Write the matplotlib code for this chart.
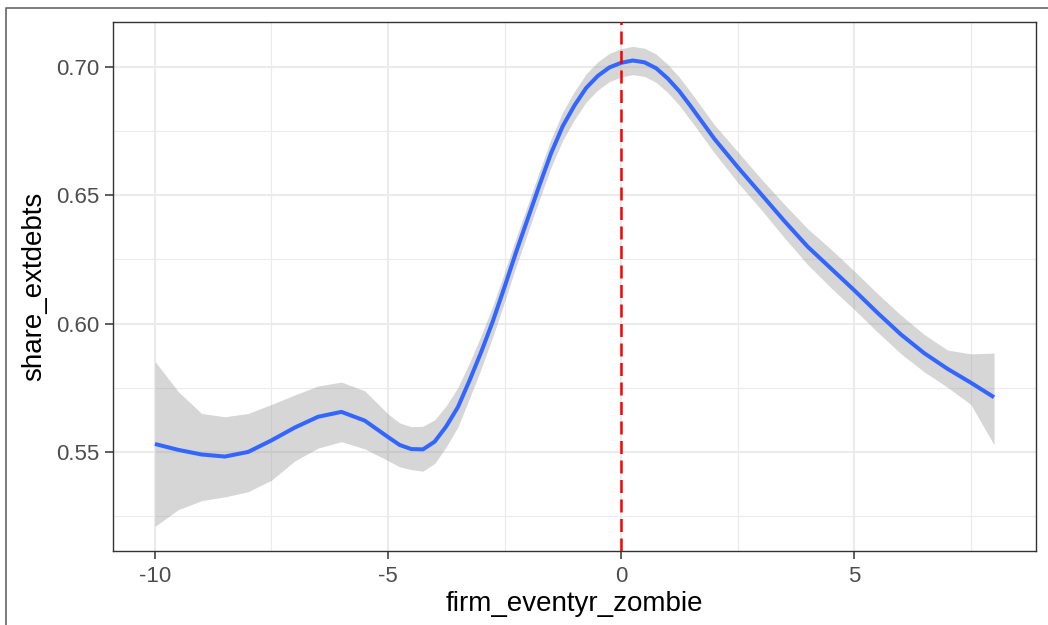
import numpy as np
import matplotlib
matplotlib.use("Agg")
import matplotlib.pyplot as plt
from matplotlib.lines import Line2D

plt.rcParams['font.family'] = ['Liberation Sans', 'DejaVu Sans']

# loess fit (x, fit, lower CI, upper CI)
x_vals = [-10.0, -9.5, -9.0, -8.5, -8.0, -7.5, -7.0, -6.5, -6.0, -5.5, -5.0,
          -4.75, -4.5, -4.25, -4.0, -3.75, -3.5, -3.25, -3.0, -2.75, -2.5,
          -2.25, -2.0, -1.75, -1.5, -1.25, -1.0, -0.75, -0.5, -0.25, 0.0,
          0.25, 0.5, 0.75, 1.0, 1.25, 1.5, 2.0, 2.5, 3.0, 3.5, 4.0, 4.5,
          5.0, 5.5, 6.0, 6.5, 7.0, 7.5, 8.0]
fit = [0.5531, 0.5508, 0.5490, 0.5482, 0.5500, 0.5545, 0.5595, 0.5637, 0.5656, 0.5622, 0.5558,
       0.5527, 0.5511, 0.5510, 0.5540, 0.5600, 0.5675, 0.5779, 0.5890, 0.6010, 0.6143,
       0.6280, 0.6410, 0.6540, 0.6665, 0.6770, 0.6850, 0.6918, 0.6965, 0.6998, 0.7016,
       0.7025, 0.7018, 0.6995, 0.6955, 0.6905, 0.6845, 0.6720, 0.6610, 0.6505, 0.6400, 0.6300, 0.6215,
       0.6130, 0.6042, 0.5958, 0.5885, 0.5824, 0.5770, 0.5713]
lower = [0.5210, 0.5275, 0.5310, 0.5325, 0.5345, 0.5390, 0.5465, 0.5515, 0.5540, 0.5512, 0.5466,
         0.5442, 0.5431, 0.5425, 0.5455, 0.5520, 0.5598, 0.5710, 0.5825, 0.5950, 0.6085,
         0.6224, 0.6355, 0.6485, 0.6610, 0.6715, 0.6795, 0.6863, 0.6910, 0.6943, 0.6961,
         0.6970, 0.6963, 0.6940, 0.6900, 0.6850, 0.6790, 0.6665, 0.6550, 0.6445, 0.6335, 0.6230, 0.6140,
         0.6055, 0.5967, 0.5883, 0.5812, 0.5752, 0.5685, 0.5528]
upper = [0.5853, 0.5735, 0.5650, 0.5637, 0.5650, 0.5685, 0.5722, 0.5757, 0.5772, 0.5738, 0.5648,
         0.5613, 0.5598, 0.5600, 0.5625, 0.5680, 0.5752, 0.5848, 0.5955, 0.6070, 0.6201,
         0.6336, 0.6465, 0.6595, 0.6720, 0.6825, 0.6905, 0.6973, 0.7020, 0.7053, 0.7071,
         0.7080, 0.7073, 0.7050, 0.7010, 0.6960, 0.6900, 0.6775, 0.6670, 0.6565, 0.6465, 0.6370, 0.6290,
         0.6205, 0.6117, 0.6033, 0.5958, 0.5897, 0.5882, 0.5885]
event_x = 0

x_ticks = [-10, -5, 0, 5]
x_minor = [-7.5, -2.5, 2.5, 7.5]
y_ticks = [0.55, 0.60, 0.65, 0.70]
y_minor = [0.525, 0.575, 0.625, 0.675]

fig = plt.figure(figsize=(10.48, 6.25), dpi=100)
ax = fig.add_axes([113 / 1048, 1 - 551 / 625, (1036 - 113) / 1048, (551 - 22) / 625])

# grid like theme_bw
for v in x_minor:
    ax.axvline(v, color='#EBEBEB', lw=0.8, zorder=0)
for v in y_minor:
    ax.axhline(v, color='#EBEBEB', lw=0.8, zorder=0)
for v in x_ticks:
    ax.axvline(v, color='#EBEBEB', lw=1.5, zorder=0)
for v in y_ticks:
    ax.axhline(v, color='#EBEBEB', lw=1.5, zorder=0)

ax.fill_between(x_vals, lower, upper, color='#999999', alpha=0.4, lw=0, zorder=2)
ax.plot(x_vals, fit, color='#3366FF', lw=2.9, zorder=3,
        solid_capstyle='butt', solid_joinstyle='round')
ax.axvline(event_x, color='red', lw=1.8, dashes=(5.2, 2.6), zorder=4)

ax.set_xlim(-10.9, 8.9)
ax.set_ylim(0.5114, 0.7175)
ax.set_xticks(x_ticks)
ax.set_xticklabels(['-10', '-5', '0', '5'])
ax.set_yticks(y_ticks)
ax.set_yticklabels(['0.55', '0.60', '0.65', '0.70'])
ax.tick_params(axis='both', length=5.5, width=1.1, color='#333333',
               labelsize=16, labelcolor='#4D4D4D', pad=4.5)
ax.tick_params(axis='x', pad=5.5)

for s in ax.spines.values():
    s.set_color('#333333')
    s.set_linewidth(1.0)

ax.set_xlabel('firm_eventyr_zombie', fontsize=20, labelpad=3)
ax.set_ylabel('share_extdebts', fontsize=20, labelpad=6)

# outer frame of the screenshot (left and top edges)
fx = 6 / 1048
fy = 1 - 7.5 / 625
fig.add_artist(Line2D([fx, fx, 1.0], [0.0, fy, fy], transform=fig.transFigure,
                      color='#666666', lw=1.2))

fig.savefig('out.png', dpi=100)
